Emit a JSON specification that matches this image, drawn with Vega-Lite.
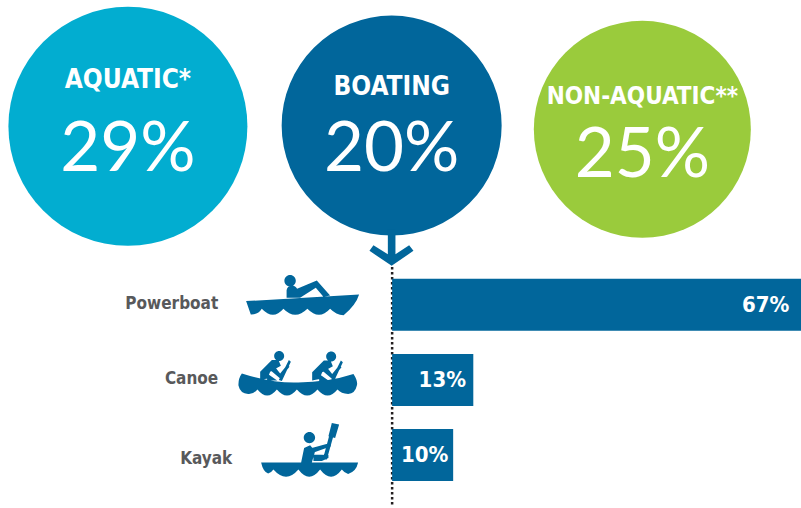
{"$schema":"https://vega.github.io/schema/vega-lite/v6.json","width":801,"height":508,"padding":0,"autosize":{"type":"fit","contains":"padding"},"background":"white","config":{"view":{"stroke":null}},"datasets":{"circles":[{"name":"AQUATIC*","share":"29%","pos":-43.3,"row":-2.36,"nameRow":-2.97,"shareRow":-2.05},{"name":"BOATING","share":"20%","pos":-0.08,"row":-2.37,"nameRow":-2.88,"shareRow":-2.05},{"name":"NON-AQUATIC**","share":"25%","pos":41,"row":-2.32,"nameRow":-2.75,"shareRow":-1.96}],"crafts":[{"craft":"Powerboat","pct":67,"pctLabel":"67%","row":0.013,"labelRow":0,"valuePos":65.1,"labelPos":-28.5,"iconPos":-14.1,"iconRow":-0.066},{"craft":"Canoe","pct":13.3,"pctLabel":"13%","row":1.013,"labelRow":1,"valuePos":12.1,"labelPos":-28.5,"iconPos":-15.4,"iconRow":0.993},{"craft":"Kayak","pct":10,"pctLabel":"10%","row":2.013,"labelRow":2.06,"valuePos":9.2,"labelPos":-26.2,"iconPos":-13.44,"iconRow":2.05}],"pointer":[{"craft":"Arrow","iconPos":-0.08,"iconRow":-0.66}],"guide":[{"at":0,"from":-0.49,"to":2.69}]},"layer":[{"data":{"name":"circles"},"mark":{"type":"point","filled":true,"opacity":1,"shape":"circle"},"encoding":{"x":{"field":"pos","type":"quantitative","scale":{"domain":[-64.26,67],"nice":false,"zero":false,"padding":0},"axis":null},"y":{"field":"row","type":"quantitative","scale":{"domain":[-4.04,2.69],"nice":false,"zero":false,"reverse":true,"padding":0},"axis":null},"color":{"field":"name","type":"nominal","scale":{"domain":["AQUATIC*","BOATING","NON-AQUATIC**"],"range":["#02ADD0","#01669B","#9ACB3C"]},"legend":null},"size":{"field":"name","type":"nominal","scale":{"type":"ordinal","domain":["AQUATIC*","BOATING","NON-AQUATIC**"],"range":[57121,48400,47089]},"legend":null}}},{"data":{"name":"guide"},"mark":{"type":"rule","color":"#231F20","strokeWidth":2.5,"strokeDash":[2.5,2.5]},"encoding":{"x":{"field":"at","type":"quantitative"},"y":{"field":"from","type":"quantitative"},"y2":{"field":"to"}}},{"data":{"name":"crafts"},"mark":{"type":"bar","orient":"horizontal","size":52,"color":"#01669B"},"encoding":{"x":{"field":"pct","type":"quantitative","stack":null},"y":{"field":"row","type":"quantitative"}}},{"data":{"name":"circles"},"transform":[{"filter":"datum.name !== 'NON-AQUATIC**'"}],"mark":{"type":"text","font":"DejaVu Sans Condensed","fontWeight":"bold","fontSize":26,"color":"white","align":"center","baseline":"middle"},"encoding":{"x":{"field":"pos","type":"quantitative"},"y":{"field":"nameRow","type":"quantitative"},"text":{"field":"name"}}},{"data":{"name":"circles"},"transform":[{"filter":"datum.name === 'NON-AQUATIC**'"}],"mark":{"type":"text","font":"DejaVu Sans Condensed","fontWeight":"bold","fontSize":24,"color":"white","align":"center","baseline":"middle"},"encoding":{"x":{"field":"pos","type":"quantitative"},"y":{"field":"nameRow","type":"quantitative"},"text":{"field":"name"}}},{"data":{"name":"circles"},"mark":{"type":"text","font":"Lato","fontWeight":400,"fontSize":69,"color":"white","align":"center","baseline":"middle"},"encoding":{"x":{"field":"pos","type":"quantitative"},"y":{"field":"shareRow","type":"quantitative"},"text":{"field":"share"}}},{"data":{"name":"crafts"},"mark":{"type":"text","font":"DejaVu Sans Condensed","fontWeight":"bold","fontSize":17,"color":"#58595B","align":"right","baseline":"middle"},"encoding":{"x":{"field":"labelPos","type":"quantitative"},"y":{"field":"labelRow","type":"quantitative"},"text":{"field":"craft"}}},{"data":{"name":"crafts"},"mark":{"type":"text","font":"DejaVu Sans Condensed","fontWeight":"bold","fontSize":22,"color":"white","align":"right","baseline":"middle"},"encoding":{"x":{"field":"valuePos","type":"quantitative"},"y":{"field":"row","type":"quantitative"},"text":{"field":"pctLabel"}}},{"data":{"name":"crafts"},"mark":{"type":"point","filled":true,"opacity":1,"size":4,"color":"#01669B"},"encoding":{"x":{"field":"iconPos","type":"quantitative"},"y":{"field":"iconRow","type":"quantitative"},"shape":{"field":"craft","type":"nominal","legend":null,"scale":{"domain":["Powerboat","Canoe","Kayak"],"range":["M-60 2.3L53 -4.3Q50 6 37.5 16.5Q30 16 24 10Q13 22 1.3 10Q-11 22 -22.7 10Q-33 22 -44.3 10Q-48 16 -55.3 15.7ZM-21.7 -18A5.7 5.7 0 1 1 -10.3 -18A5.7 5.7 0 1 1 -21.7 -18ZM-19.5 -1L-19.5 -8.5A5.5 5.5 0 0 1 -9 -10L10.7 -18.3L24 -3.3L17.3 -2L9.7 -11L-6 -1ZM-19.5 -1L-9 -8L-6 -1Z","M-56.3 -5Q-25 5 0 4Q30 4 55.3 -4.3Q60 3 58.7 7Q57 15 50 15.5Q43 15 39.3 11Q29.5 23 19.3 11Q9 23 -1.3 11Q-11 23 -21.3 11Q-31 23 -40.7 11Q-45 16 -50 15.5Q-58 15 -59.7 7Q-60 0 -56.3 -5ZM-24 -22.3A5 5 0 1 1 -14 -22.3A5 5 0 1 1 -24 -22.3ZM-38 1.7L-38 -6.7L-26.3 -18.3L-19.7 -18.3L-17.3 -12.7L-28 -6.7L-30.7 0ZM-9.3 -18.3L-7.3 -16.7L-16.3 2.7L-19.3 1.7ZM-24.7 -13.3L-18 -5L-10.7 -14L-8.7 -11.7L-18 0L-28 -8.3ZM-31 -5L-21 2L-31 2ZM28 -21.8A5 5 0 1 1 38 -21.8A5 5 0 1 1 28 -21.8ZM14 2.2L14 -6.2L25.7 -17.8L32.3 -17.8L34.7 -12.2L24 -6.2L21.3 0.5ZM42.7 -17.8L44.7 -16.2L35.7 3.2L32.7 2.2ZM27.3 -12.8L34 -4.5L41.3 -13.5L43.3 -11.2L34 0.5L24 -7.8ZM21 -4.5L31 2.5L21 2.5Z","M-49 4.7L48 4.7Q46 14 38 16Q34 15 31.7 11.7Q21 26 10 11.7Q-1 26 -11.7 11.7Q-24 26 -36.7 11.7Q-39 15 -42 15.7Q-47 14 -49 4.7ZM-6.4 -20.3A5.7 5.7 0 1 1 5 -20.3A5.7 5.7 0 1 1 -6.4 -20.3ZM-9 4.7L-6 -10L0 -12.7L5 -6.7L1.7 4.7ZM1.7 -10L20 -15L21 -11.7L5 -6ZM21.7 -35L29 -33.3L25 -20L18.3 -21.7ZM19 -22L23 -21L16.7 1.7L12.7 1.7ZM3.3 -3.3L18.3 -3L18.3 0L11.7 3L3.3 3Z"]}}}},{"data":{"name":"pointer"},"mark":{"type":"point","filled":true,"opacity":1,"size":4,"color":"#01669B","shape":"M0 11.7L-22.2 -3.3L-18.2 -9L-3.8 0L-3.8 -25L3.8 -25L3.8 0L17.5 -9L21.8 -3.3Z"},"encoding":{"x":{"field":"iconPos","type":"quantitative"},"y":{"field":"iconRow","type":"quantitative"}}}]}
